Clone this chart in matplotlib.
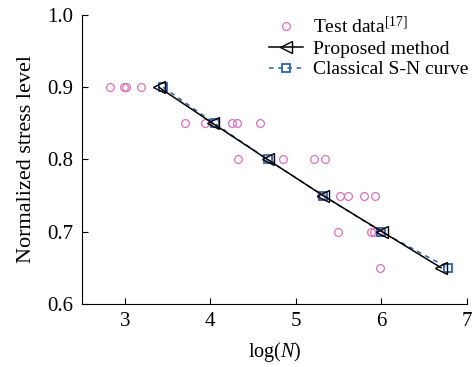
import matplotlib
matplotlib.use('Agg')
import matplotlib.pyplot as plt

plt.rcParams['font.family'] = ['Liberation Serif', 'DejaVu Serif']
plt.rcParams['mathtext.fontset'] = 'custom'
plt.rcParams['mathtext.it'] = 'Liberation Serif:italic'
plt.rcParams['mathtext.rm'] = 'Liberation Serif'

# test data (log N, normalized stress)
test_logn = [2.83, 2.99, 3.01, 3.19,
             3.71, 3.94, 4.05, 4.25, 4.31, 4.58,
             4.33, 4.70, 4.85, 5.21, 5.34,
             5.29, 5.52, 5.61, 5.80, 5.93,
             5.49, 5.88, 5.91, 5.97,
             5.99]
test_s = [0.9, 0.9, 0.9, 0.9,
          0.85, 0.85, 0.85, 0.85, 0.85, 0.85,
          0.8, 0.8, 0.8, 0.8, 0.8,
          0.75, 0.75, 0.75, 0.75, 0.75,
          0.7, 0.7, 0.7, 0.7,
          0.65]

# proposed method
prop_logn = [3.40, 4.03, 4.67, 5.32, 6.01, 6.70]
prop_s = [0.9, 0.85, 0.8, 0.75, 0.7, 0.65]

# classical S-N curve
clas_logn = [3.45, 4.05, 4.67, 5.32, 6.00, 6.78]
clas_s = [0.9, 0.85, 0.8, 0.75, 0.7, 0.65]

fig = plt.figure(figsize=(4.75, 3.67), dpi=100)
ax = fig.add_axes([0.1726, 0.172, 0.810, 0.787])

ax.plot(test_logn, test_s, 'o', ls='none', mfc='none', mec='#e070b8', ms=5.6, mew=0.9,
        label='Test data$^{[17]}$')
ax.plot(prop_logn, prop_s, '-', color='black', lw=1.1, marker='<', ms=8, mfc='none',
        mew=1.0, label='Proposed method', zorder=3)
ax.plot(clas_logn, clas_s, '--', color='#2a62b0', lw=1.1, marker='s', ms=5.2, mfc='none',
        mew=1.3, label='Classical S-N curve', dashes=(3, 3), zorder=2)

ax.set_xlim(2.5, 7)
ax.set_ylim(0.6, 1.0)
ax.set_xticks([3, 4, 5, 6, 7])
ax.set_yticks([0.6, 0.7, 0.8, 0.9, 1.0])
ax.set_yticklabels(['0.6', '0.7', '0.8', '0.9', '1.0'])
ax.tick_params(direction='in', length=4, labelsize=15, pad=6)
ax.spines['top'].set_visible(False)
ax.spines['right'].set_visible(False)
ax.set_xlabel('log($\\mathit{N}$)', fontsize=14.5, labelpad=6)
ax.set_ylabel('Normalized stress level', fontsize=16, labelpad=8)

ax.legend(loc='upper right', frameon=False, fontsize=14, handlelength=1.75,
          borderaxespad=0.1, labelspacing=0.15, handletextpad=0.5,
          bbox_to_anchor=(1.03, 1.03))

fig.savefig('out.png', dpi=100)
